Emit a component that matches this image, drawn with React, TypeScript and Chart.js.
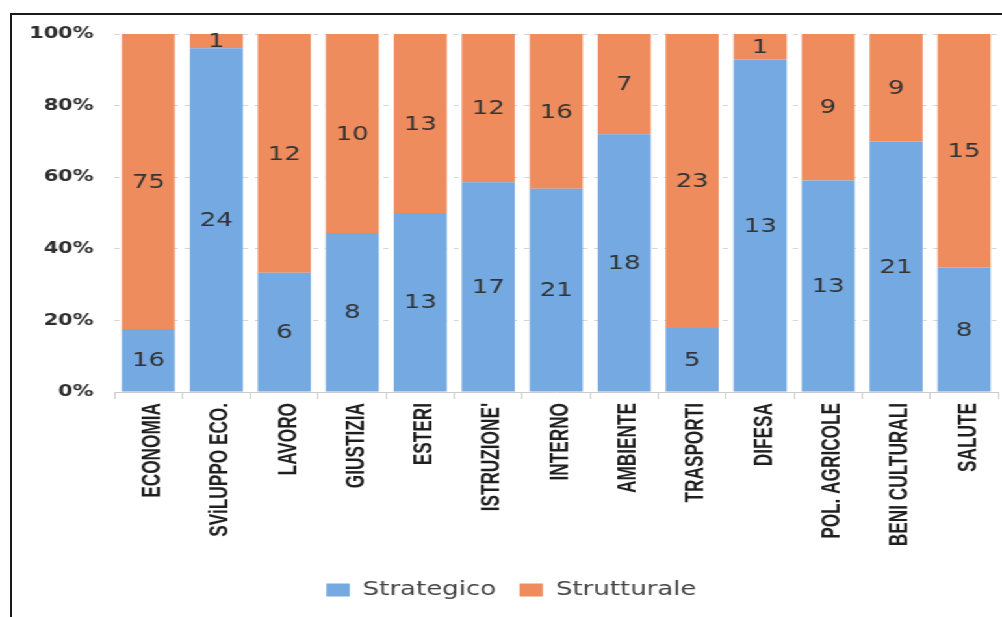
import React, { useEffect, useRef } from "react";
import { Chart, registerables } from "chart.js";

Chart.register(...registerables);

const categories = [
  "ECONOMIA",
  "SViLUPPO ECO.",
  "LAVORO",
  "GIUSTIZIA",
  "ESTERI",
  "ISTRUZIONE'",
  "INTERNO",
  "AMBIENTE",
  "TRASPORTI",
  "DIFESA",
  "POL. AGRICOLE",
  "BENI CULTURALI",
  "SALUTE",
];
const strategico = [16, 24, 6, 8, 13, 17, 21, 18, 5, 13, 13, 21, 8];
const strutturale = [75, 1, 12, 10, 13, 12, 16, 7, 23, 1, 9, 9, 15];
const yTicks = [0, 20, 40, 60, 80, 100];

const SX = 1.3;
const W = Math.round(1002 / SX);
const H = 617;

const toPct = (a: number[], b: number[]) => a.map((v, i) => (v / (v + b[i])) * 100);

const valueLabels = {
  id: "valueLabels",
  afterDatasetsDraw(chart: any) {
    const ctx = chart.ctx;
    ctx.save();
    ctx.font = '20px "DejaVu Sans"';
    ctx.fillStyle = "#333333";
    ctx.textAlign = "center";
    ctx.textBaseline = "middle";
    chart.data.datasets.forEach((ds: any, i: number) => {
      const meta = chart.getDatasetMeta(i);
      meta.data.forEach((el: any, j: number) => {
        const y = (el.y + el.base) / 2;
        ctx.fillText(String(ds.counts[j]), el.x, y + 1);
      });
    });
    ctx.restore();
  },
};

// Condensed vertical category labels, placed with the x scale
const xLabels = {
  id: "xLabels",
  afterDraw(chart: any) {
    const sc = chart.scales.x;
    const ctx = chart.ctx;
    ctx.save();
    ctx.font = 'bold 21px "Liberation Sans"';
    ctx.fillStyle = "#1f1f1f";
    ctx.textAlign = "right";
    ctx.textBaseline = "middle";
    (chart.data.labels as string[]).forEach((lab, i) => {
      const x = sc.getPixelForTick(i);
      ctx.save();
      ctx.translate(x + 3, sc.top + 11);
      ctx.rotate(-Math.PI / 2);
      ctx.scale(0.82, 1);
      ctx.fillText(lab, 0, 0);
      ctx.restore();
    });
    ctx.restore();
  },
};

export default function App() {
  const ref = useRef<HTMLCanvasElement | null>(null);
  useEffect(() => {
    if (!ref.current) return;
    const chart = new Chart(ref.current, {
      type: "bar",
      data: {
        labels: categories,
        datasets: [
          {
            label: "Strategico",
            data: toPct(strategico, strutturale),
            counts: strategico,
            backgroundColor: "#74A9E1",
            barPercentage: 0.78,
            categoryPercentage: 1,
          } as any,
          {
            label: "Strutturale",
            data: toPct(strutturale, strategico),
            counts: strutturale,
            backgroundColor: "#EE8C5D",
            barPercentage: 0.78,
            categoryPercentage: 1,
          } as any,
        ],
      },
      options: {
        animation: false,
        responsive: true,
        maintainAspectRatio: false,
        layout: { padding: { top: 34, left: 19, right: 3, bottom: 7 } },
        plugins: {
          tooltip: { enabled: false },
          legend: {
            position: "bottom",
            fullSize: true,
            labels: {
              boxWidth: 18,
              boxHeight: 13,
              padding: 18,
              color: "#444444",
              font: { family: '"DejaVu Sans"', size: 20 },
            },
          },
        },
        scales: {
          x: {
            stacked: true,
            grid: {
              drawOnChartArea: false,
              drawTicks: true,
              tickLength: 7,
              color: "#cccccc",
            },
            border: { display: true, color: "#cccccc" },
            ticks: {
              minRotation: 90,
              maxRotation: 90,
              padding: 3,
              color: "rgba(0,0,0,0)",
              font: { family: '"Liberation Sans"', size: 12 },
            },
            afterFit: (s: any) => {
              s.height = 170;
            },
          },
          y: {
            stacked: true,
            min: 0,
            max: 100,
            afterBuildTicks: (s: any) => {
              s.ticks = yTicks.map((v) => ({ value: v }));
            },
            grid: { drawTicks: false, color: "#d6d6d6" },
            border: { display: false, dash: [4, 5] },
            ticks: {
              padding: 16,
              color: "#2e2e2e",
              font: { family: '"DejaVu Sans"', size: 16, weight: "bold" },
              callback: (v: any) => v + "%",
            },
            afterFit: (s: any) => {
              s.width = 69;
            },
          },
        },
      },
      plugins: [valueLabels, xLabels],
    });
    return () => chart.destroy();
  }, []);

  return (
    <>
      <div
        style={{
          position: "fixed",
          left: 0,
          top: 0,
          width: W,
          height: H,
          transform: `scaleX(${1002 / W})`,
          transformOrigin: "0 0",
          background: "#fff",
        }}
      >
        <canvas ref={ref} />
      </div>
      <div
        style={{
          position: "fixed",
          left: 10,
          top: 13,
          width: 992,
          height: 604,
          boxSizing: "border-box",
          borderLeft: "2px solid #1a1a1a",
          borderTop: "2px solid #1a1a1a",
          pointerEvents: "none",
        }}
      />
    </>
  );
}
